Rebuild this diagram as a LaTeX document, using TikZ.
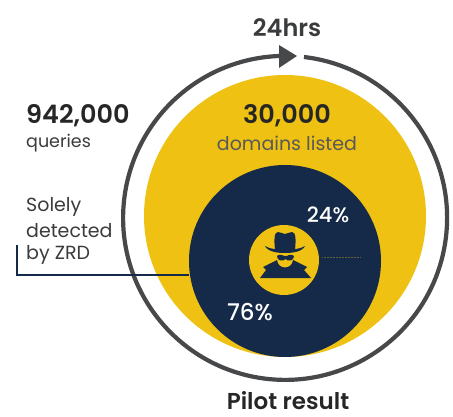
\documentclass[tikz,border=0pt]{standalone}
\usepackage{fontspec}
\setmainfont[BoldFont={Poppins SemiBold}]{Poppins}
\newfontfamily\medfont{Poppins Medium}
\definecolor{navy}{HTML}{152A49}
\definecolor{gold}{HTML}{EEC113}
\definecolor{ringgray}{HTML}{47484A}
\definecolor{txt}{HTML}{3A3B3D}
\newcommand{\fs}[1]{\fontsize{#1}{#1}\selectfont}
\begin{document}
\begin{tikzpicture}[x=1pt,y=-1pt,
 lab/.style={inner sep=0pt,text=txt}]
\useasboundingbox (0,0) rectangle (453,417);
\fill[white] (0,0) rectangle (453,417);
\node[circle,fill=gold,minimum size=282pt,inner sep=0pt] (big) at (285,216) {};
\node[circle,fill=navy,minimum size=192pt,inner sep=0pt] (mid) at (285,261) {};
\node[circle,fill=gold,minimum size=70pt,inner sep=0pt] (core) at (284,260) {};
% ring
\draw[ringgray,line width=4.2pt] (304,57) arc[start angle=83.3,end angle=-268,x radius=162,y radius=-162];
\fill[ringgray] (297,56) -- (279,45) -- (279,68) -- cycle;
% spy
\fill[navy] (275,250) .. controls (274,240) and (274,232) .. (278,232) .. controls (281,232) and (283,234) .. (285,234)
 .. controls (287,234) and (289,232) .. (292,232) .. controls (296,232) and (296,240) .. (295,250) -- cycle;
\fill[navy] (265,246) .. controls (272,251) and (298,251) .. (305,246) .. controls (302,252) and (292,253) .. (285,253) .. controls (278,253) and (268,252) .. (265,246) -- cycle;
\fill[navy] (260,278) -- (266,270) -- (263,267) -- (277,260) .. controls (278,270) and (292,270) .. (293,260) -- (307,267) -- (304,270) -- (311,278) -- cycle;
\fill[navy] (277,256) .. controls (279,254) and (283,255) .. (284,256) -- (287,256) .. controls (288,255) and (292,254) .. (294,256) .. controls (294,261) and (288,262) .. (285.5,259) .. controls (283,262) and (277,261) .. (277,256) -- cycle;
% dotted line
\draw[gold!35!navy,densely dotted,line width=.5pt] (322,257) -- (360,257);
% leader
\coordinate (l1) at (17,245);
\coordinate (l2) at (17,275);
\draw[navy,line width=1.2pt] (l1) -- (l2) -- (mid.west |- l2);
% texts
\node[lab,font=\fs{24}\bfseries] (t24) at (287,28) {24hrs};
\node[lab,font=\fs{25.5}\bfseries,anchor=west,text=black!85] (q1) at (26,116) {942,000};
\node[lab,font=\fs{17.5},anchor=west] (q2) at (26,143) {queries};
\node[lab,font=\fs{25.5}\bfseries,text=black!85] (d1) at (287,116) {30,000};
\node[lab,font=\fs{19},text=black!65] (d2) at (287,143) {domains listed};
\node[lab,font=\fs{19},anchor=west] (s1) at (26,207) {Solely};
\node[lab,font=\fs{19},anchor=west] (s2) at (26,231) {detected};
\node[lab,font=\fs{19},anchor=west] (s3) at (26,255) {by ZRD};
\node[lab,font=\fs{21}\medfont,text=white] (p24) at (328,215) {24\%};
\node[lab,font=\fs{23}\medfont,text=white] (p76) at (250,312) {76\%};
\node[lab,font=\fs{23}\bfseries,text=black!85] (pr) at (288,401) {Pilot result};
\end{tikzpicture}
\end{document}
